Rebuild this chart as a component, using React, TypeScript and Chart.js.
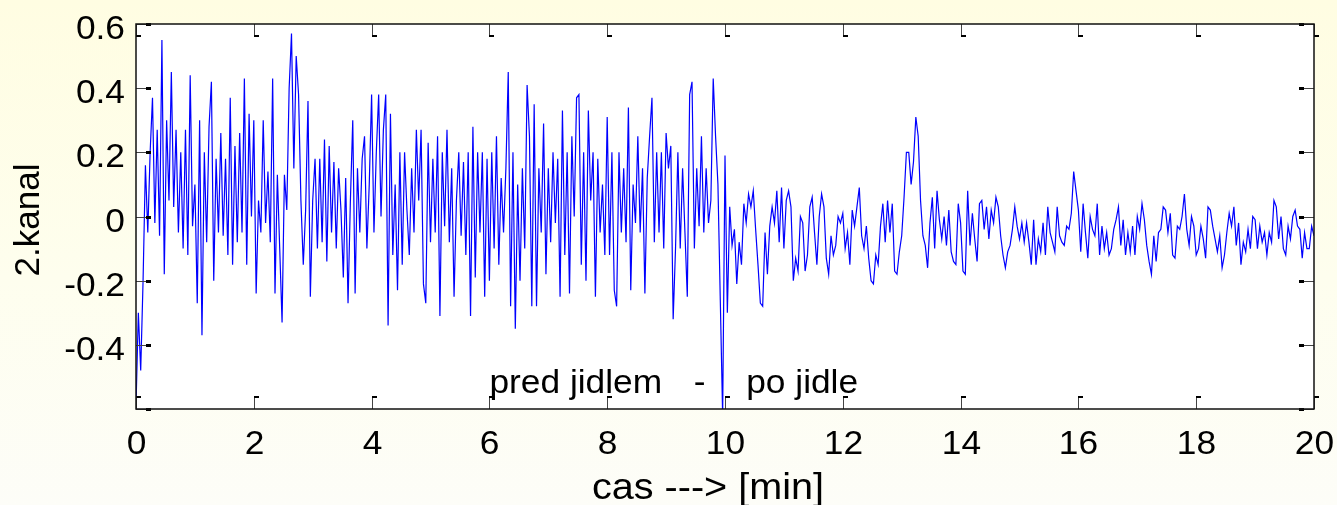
import React, { useEffect, useRef } from "react";
import { Chart, registerables } from "chart.js";

Chart.register(...registerables);

// sampling interval of the recorded signal (minutes)
const SAMPLE_STEP_MIN = 0.04;

// 2nd channel signal, 0 - 5 min
const signalMin00to05 = [
  -0.59, -0.30, -0.48, -0.20, 0.16, -0.05, 0.20, 0.37, -0.02, 0.27, -0.06, 0.55, -0.18, 0.30, 0.05, 0.45, 0.03, 0.27, -0.05, 0.20, -0.10, 0.27, -0.12, 0.44, -0.03,
  0.10, -0.27, 0.30, -0.37, 0.20, -0.08, 0.28, 0.42, -0.20, 0.18, -0.05, 0.26, -0.06, 0.18, -0.12, 0.37, -0.15, 0.22, -0.08, 0.26, -0.05, 0.43, -0.15, 0.32, 0.00,
  0.30, -0.24, 0.05, -0.05, 0.30, -0.02, 0.14, -0.08, 0.43, -0.24, 0.13, -0.10, -0.33, 0.13, 0.02, 0.40, 0.57, 0.15, 0.50, 0.38, 0.05, -0.15, 0.02, 0.36, -0.25,
  0.05, 0.18, -0.10, 0.18, -0.08, 0.24, -0.14, 0.22, -0.05, 0.17, -0.10, 0.15, 0.02, -0.19, 0.12, -0.27, 0.05, 0.30, -0.24, 0.15, -0.05, 0.18, 0.25, -0.10, 0.10,
  0.38, -0.05, 0.20, 0.38, 0.00, 0.27, 0.38, -0.34, 0.32, -0.12, 0.10, -0.23, 0.20, -0.15, 0.20, 0.02, -0.12, 0.15, -0.05, 0.27, 0.05, 0.27, -0.21, -0.27, 0.23,
];

// 5 - 10 min
const signalMin05to10 = [
  -0.08, 0.18, -0.05, 0.25, -0.31, 0.20, -0.03, 0.27, -0.08, 0.15, -0.25, 0.05, 0.20, -0.06, 0.17, -0.12, 0.20, -0.31, 0.28, -0.19, 0.20, -0.05, 0.20, -0.25, 0.18,
  -0.20, 0.20, -0.10, 0.25, -0.15, 0.12, -0.05, 0.15, 0.45, -0.28, 0.20, -0.35, 0.10, -0.20, 0.15, -0.10, 0.41, 0.25, -0.28, 0.35, -0.28, 0.15, -0.05, 0.29, -0.18,
  0.15, -0.08, 0.20, -0.02, 0.18, -0.25, 0.33, -0.12, 0.20, -0.24, 0.25, 0.00, 0.37, 0.38, -0.15, 0.20, -0.20, 0.33, 0.05, 0.20, -0.25, 0.18, -0.05, 0.10, -0.12,
  0.31, -0.12, 0.20, -0.23, -0.28, 0.20, -0.05, 0.15, -0.08, 0.34, -0.23, 0.10, -0.02, 0.25, -0.05, 0.15, -0.24, 0.12, 0.25, 0.37, -0.08, 0.20, -0.05, 0.20, -0.10,
  0.26, 0.15, 0.22, -0.32, -0.10, 0.20, -0.10, 0.15, -0.05, -0.25, 0.38, 0.42, -0.10, 0.15, -0.03, 0.25, -0.05, 0.15, -0.02, 0.05, 0.43, 0.25, 0.10, -0.26, -0.62,
];

// 10 - 15 min
const signalMin10to15 = [
  0.19, -0.30, 0.03, -0.09, -0.04, -0.21, -0.08, -0.15, 0.04, -0.02, 0.07, 0.03, 0.08, -0.04, -0.15, -0.27, -0.28, -0.05, -0.18, -0.03, 0.03, -0.02, 0.08, -0.08, 0.09,
  -0.10, 0.05, 0.08, 0.03, -0.20, -0.13, -0.17, 0.00, -0.02, -0.17, -0.12, 0.03, 0.06, -0.05, -0.15, 0.00, 0.07, 0.03, -0.13, -0.18, -0.06, -0.12, -0.09, 0.00, -0.02,
  0.01, -0.10, -0.05, -0.15, 0.02, -0.03, 0.03, 0.09, -0.06, -0.10, -0.03, -0.13, -0.20, -0.21, -0.12, -0.15, -0.03, 0.04, -0.08, 0.05, -0.05, 0.04, -0.17, -0.18, -0.11,
  -0.06, 0.06, 0.20, 0.20, 0.10, 0.17, 0.31, 0.25, 0.05, -0.06, -0.09, -0.16, -0.02, 0.06, -0.10, 0.08, -0.01, -0.07, 0.00, -0.09, 0.02, -0.11, -0.14, -0.15, 0.04,
  -0.02, -0.17, -0.18, 0.08, -0.09, 0.01, -0.07, -0.14, 0.04, 0.05, -0.04, 0.03, -0.07, 0.02, -0.02, 0.06, 0.03, -0.06, -0.12, -0.16, -0.11, -0.09, -0.04, 0.03, -0.03,
];

// 15 - 20 min
const signalMin15to20 = [
  -0.07, -0.02, -0.08, -0.02, -0.08, -0.15, -0.01, -0.15, -0.07, -0.11, -0.02, -0.12, 0.03, -0.05, -0.08, -0.11, 0.03, -0.06, -0.08, -0.09, -0.03, -0.04, 0.01, 0.14, 0.08,
  0.02, -0.11, 0.04, -0.05, -0.13, 0.00, -0.04, -0.06, 0.04, -0.12, -0.03, -0.10, -0.05, -0.12, -0.10, -0.04, -0.01, 0.03, -0.09, -0.01, -0.12, -0.05, -0.11, -0.03, -0.12,
  0.00, -0.04, 0.04, -0.01, -0.09, -0.14, -0.18, -0.06, -0.14, -0.05, -0.04, 0.03, 0.02, -0.05, 0.01, -0.12, -0.13, -0.03, -0.04, 0.00, 0.07, -0.04, -0.09, 0.00, -0.03,
  -0.12, -0.10, -0.03, -0.07, -0.13, 0.03, 0.02, -0.03, -0.07, -0.11, -0.06, -0.16, -0.12, -0.05, 0.01, -0.03, 0.03, -0.09, -0.02, -0.15, -0.08, -0.11, -0.04, -0.10, 0.00,
  -0.01, -0.10, -0.03, -0.08, -0.05, -0.12, -0.05, -0.08, 0.05, 0.03, -0.07, 0.00, -0.10, -0.12, -0.03, -0.07, 0.00, 0.02, -0.03, -0.04, -0.13, -0.05, -0.10, -0.10, -0.03,
  -0.06,
];

const X_MIN = 0;
const X_MAX = 20;
const Y_MIN = -0.6;
const Y_MAX = 0.6;
const xTickValues = [0, 2, 4, 6, 8, 10, 12, 14, 16, 18, 20];
const xTickLabels = ["0", "2", "4", "6", "8", "10", "12", "14", "16", "18", "20"];
const yTickValues = [-0.6, -0.4, -0.2, 0, 0.2, 0.4, 0.6];
const yTickLabels = ["", "-0.4", "-0.2", "0", "0.2", "0.4", "0.6"];

const annotationTexts = ["pred jidlem", "-", "po jidle"];
const annotationX = [6.0, 9.47, 10.36];
const annotationY = -0.55;

const yAxisTitle = "2.kanal";
const xAxisTitle = "cas ---> [min]";

const FONT_FAMILY = '"Liberation Sans", Arial, Helvetica, sans-serif';
const FONT_SIZE = 33;
const TEXT_STRETCH = 1.07;

const drawText = (
  ctx: CanvasRenderingContext2D,
  text: string,
  x: number,
  y: number,
  align: CanvasTextAlign,
  size: number,
  stretch: number,
  rotate = 0
) => {
  ctx.save();
  ctx.translate(x, y);
  if (rotate) ctx.rotate(rotate);
  ctx.scale(stretch, 1);
  ctx.font = `${size}px ${FONT_FAMILY}`;
  ctx.fillStyle = "#000";
  ctx.textAlign = align;
  ctx.textBaseline = "alphabetic";
  ctx.fillText(text, 0, 0);
  ctx.restore();
};

const framePlugin = {
  id: "matlabFrame",
  beforeDraw(chart: any) {
    const { ctx, chartArea: a } = chart;
    ctx.save();
    ctx.fillStyle = "#ffffff";
    ctx.fillRect(a.left, a.top, a.right - a.left, a.bottom - a.top);
    ctx.restore();
  },
  afterDraw(chart: any) {
    const { ctx, chartArea: a, scales } = chart;
    const xs = scales.x;
    const ys = scales.y;
    ctx.save();
    const line = (x1: number, y1: number, x2: number, y2: number) => {
      ctx.beginPath();
      ctx.moveTo(x1, y1);
      ctx.lineTo(x2, y2);
      ctx.stroke();
    };
    ctx.lineWidth = 1;
    xTickValues.forEach((v, i) => {
      const px = Math.round(xs.getPixelForValue(v)) + 0.5;
      ctx.strokeStyle = "#444";
      line(px, a.top, px, a.top + 12);
      line(px, a.bottom, px, a.bottom - 12);
      ctx.fillStyle = "#000";
      ctx.fillRect(px - 0.5, a.top + 11, 5, 2);
      ctx.fillRect(px - 0.5, a.bottom - 13, 5, 2);
      drawText(ctx, xTickLabels[i], px, a.bottom + 45, "center", FONT_SIZE, TEXT_STRETCH);
    });
    yTickValues.forEach((v, i) => {
      const py = Math.round(ys.getPixelForValue(v)) + 0.5;
      ctx.strokeStyle = "#444";
      line(a.left, py, a.left + 14, py);
      line(a.right, py, a.right - 14, py);
      ctx.fillStyle = "#000";
      ctx.fillRect(a.left + 10, py - 1.5, 5, 3);
      ctx.fillRect(a.right - 15, py - 1.5, 5, 3);
      if (yTickLabels[i]) drawText(ctx, yTickLabels[i], a.left - 11, py + 14, "right", FONT_SIZE, TEXT_STRETCH);
    });
    ctx.strokeStyle = "#111";
    ctx.lineWidth = 1.5;
    ctx.strokeRect(a.left, a.top, a.right - a.left, a.bottom - a.top);

    annotationTexts.forEach((t, i) => {
      drawText(ctx, t, xs.getPixelForValue(annotationX[i]), ys.getPixelForValue(annotationY), "left", FONT_SIZE, TEXT_STRETCH);
    });

    drawText(ctx, xAxisTitle, 708, 499, "center", 37, TEXT_STRETCH);
    drawText(ctx, yAxisTitle, 39, 220, "center", 35, 1, -Math.PI / 2);
    ctx.restore();
  },
};

export default function App() {
  const canvasRef = useRef<HTMLCanvasElement | null>(null);

  useEffect(() => {
    document.body.style.margin = "0";
    const canvas = canvasRef.current;
    if (!canvas) return;
    const values = [...signalMin00to05, ...signalMin05to10, ...signalMin10to15, ...signalMin15to20];
    const points = values.map((v, i) => ({ x: Math.round(i * SAMPLE_STEP_MIN * 100) / 100, y: v }));

    const chart = new Chart(canvas, {
      type: "line",
      data: {
        datasets: [
          {
            data: points,
            borderColor: "#0000ff",
            borderWidth: 1.2,
            pointRadius: 0,
            tension: 0,
            fill: false,
          },
        ],
      },
      options: {
        animation: false,
        responsive: false,
        maintainAspectRatio: false,
        events: [],
        layout: { padding: { top: 24, right: 23, left: 0, bottom: 0 } },
        plugins: { legend: { display: false }, tooltip: { enabled: false }, title: { display: false } },
        scales: {
          x: {
            type: "linear",
            min: X_MIN,
            max: X_MAX,
            afterBuildTicks: (s: any) => {
              s.ticks = xTickValues.map((v) => ({ value: v }));
            },
            afterFit: (s: any) => {
              s.height = 96;
              s.paddingLeft = 0;
              s.paddingRight = 0;
            },
            grid: { display: false, drawTicks: false },
            border: { display: false },
            ticks: { display: false },
          },
          y: {
            type: "linear",
            min: Y_MIN,
            max: Y_MAX,
            afterBuildTicks: (s: any) => {
              s.ticks = yTickValues.map((v) => ({ value: v }));
            },
            afterFit: (s: any) => {
              s.width = 136;
              s.paddingTop = 0;
              s.paddingBottom = 0;
            },
            grid: { display: false, drawTicks: false },
            border: { display: false },
            ticks: { display: false },
          },
        },
      },
      plugins: [framePlugin],
    });
    return () => chart.destroy();
  }, []);

  return (
    <div
      style={{
        position: "fixed",
        left: 0,
        top: 0,
        width: 1337,
        height: 505,
        background: "linear-gradient(180deg, #fffde2 0%, #fefeee 55%, #fdfdf8 100%)",
      }}
    >
      <canvas ref={canvasRef} width={1337} height={505} style={{ display: "block", width: 1337, height: 505 }} />
    </div>
  );
}
